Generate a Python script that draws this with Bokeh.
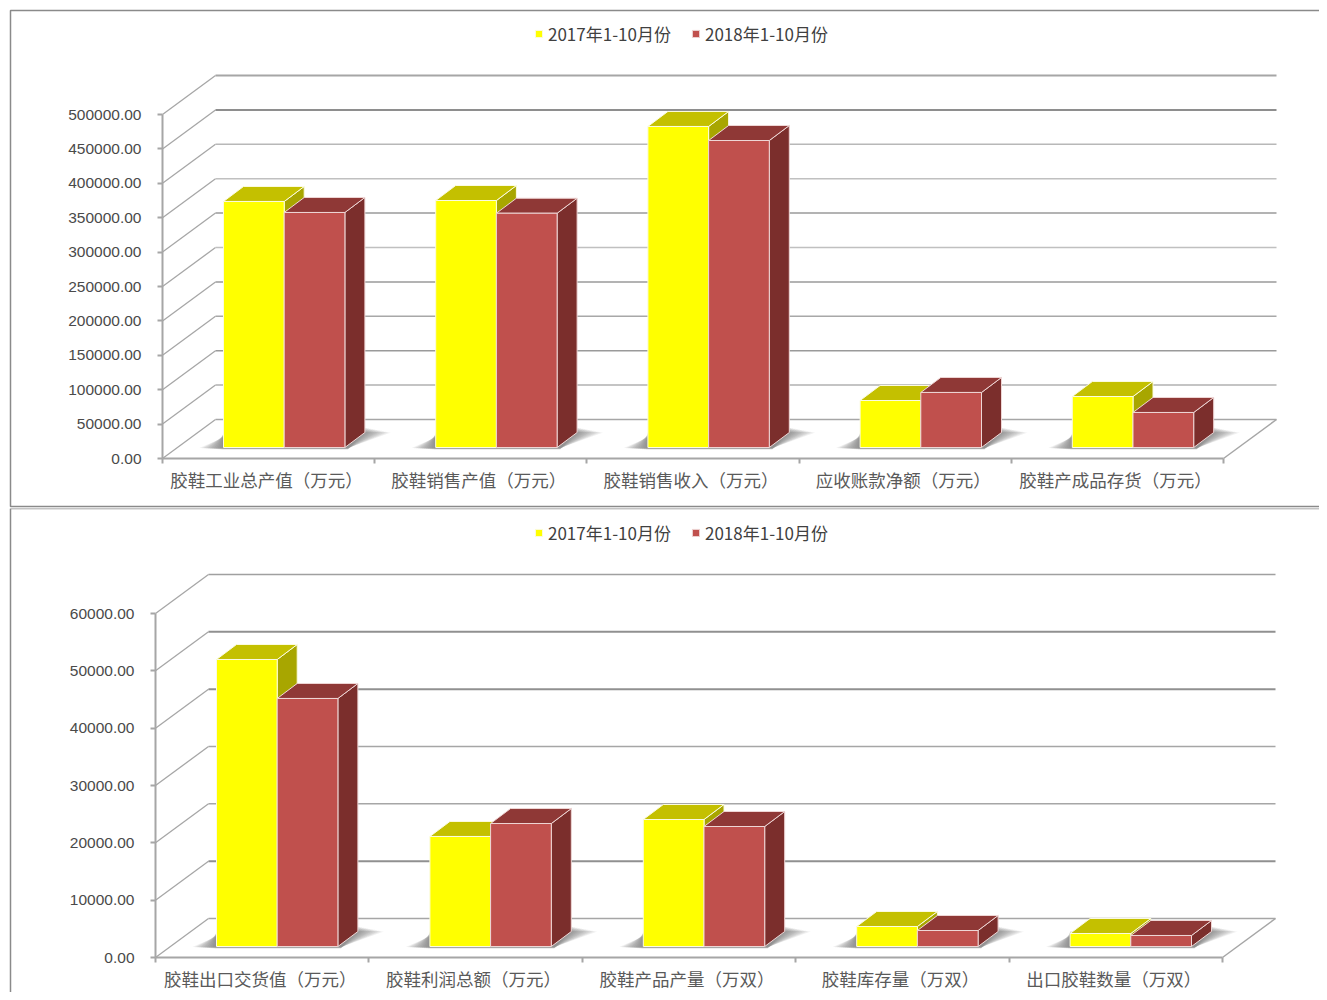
from bokeh.plotting import figure
from bokeh.layouts import column
from bokeh.models import (Range1d, LinearAxis, FixedTicker, NumeralTickFormatter,
                          Legend, LegendItem)
from bokeh.embed import file_html
from bokeh.resources import INLINE

series_names = ["2017年1-10月份", "2018年1-10月份"]

cats_a = ["胶鞋工业总产值（万元）", "胶鞋销售产值（万元）", "胶鞋销售收入（万元）",
          "应收账款净额（万元）", "胶鞋产成品存货（万元）"]
vals_a_2017 = [357600, 359000, 466600, 68300, 74100]
vals_a_2018 = [341600, 340500, 446200, 80000, 50900]
ticks_a = [0, 50000, 100000, 150000, 200000, 250000, 300000, 350000, 400000, 450000, 500000]

cats_b = ["胶鞋出口交货值（万元）", "胶鞋利润总额（万元）", "胶鞋产品产量（万双）",
          "胶鞋库存量（万双）", "出口胶鞋数量（万双）"]
vals_b_2017 = [50060, 19190, 22150, 3490, 2270]
vals_b_2018 = [43260, 21450, 20930, 2790, 1920]
ticks_b = [0, 10000, 20000, 30000, 40000, 50000, 60000]

YEL, YEL_TOP, YEL_SIDE = "#ffff00", "#c4c000", "#a8a600"
RED, RED_TOP, RED_SIDE = "#c0504d", "#8f3836", "#7b2e2c"
EDGE_Y, EDGE_R = "#fbfbe0", "#eed6d5"
GRID = "#a6a6a6"
TXT = "#4a4a4a"
FONT = "Noto Sans CJK SC"

style_a = [("#a6a6a6", 1.5), ("#b0b0b0", 1.5), ("#9a9a9a", 1.5), ("#a8a8a8", 1.5), ("#9a9a9a", 1.5),
           ("#c0c0c0", 1.5), ("#9a9a9a", 1.5), ("#c0c0c0", 1.5), ("#b8b8b8", 1.5), ("#8e8e8e", 2), ("#a6a6a6", 2)]
style_b = [("#a6a6a6", 1.5), ("#909090", 2), ("#a6a6a6", 1.5), ("#a6a6a6", 1.5), ("#909090", 2), ("#909090", 2), ("#a0a0a0", 1.5)]


def panel(cats, v1, v2, ticks, style, x0px, x5px, y0px, ytoppx, back_dy, base_dy,
          page_top, page_bottom, x_first, border_top, border_bottom, legend_y):
    """One 3D-look column chart; frame fills the whole figure, axes sit at fixed data locations."""
    W = 1319
    H = page_bottom - page_top
    u = (x5px - x0px) / 5.0                 # px per category
    k = ticks[-1] / float(y0px - ytoppx)    # value per px
    p = figure(width=W, height=H, output_backend="svg", toolbar_location=None,
               x_axis_type=None, y_axis_type=None, min_border=0,
               x_range=Range1d((0 - x0px) / u, (W - x0px) / u),
               y_range=Range1d((y0px - page_bottom) * k, (y0px - page_top) * k))
    p.outline_line_color = None
    p.grid.visible = False
    p.background_fill_color = "white"
    p.border_fill_color = "white"

    dxw, dyw = 53 / u, back_dy * k        # wall depth
    dxb, dyb = 20 / u, 15 * k             # bar depth
    base = base_dy * k                    # bar base above zero line
    right = 5.0

    # panel border
    xl_b, xr_b = (10 - x0px) / u, (W - x0px) / u
    ytop = (y0px - border_top) * k
    if border_bottom is None:
        p.line([xr_b, xl_b, xl_b], [ytop, ytop, (y0px - page_bottom) * k], line_color="#8a8a8a", line_width=1.5)
    else:
        ybot = (y0px - border_bottom) * k
        p.line([xr_b, xl_b, xl_b, xr_b], [ytop, ytop, ybot, ybot], line_color="#8a8a8a", line_width=1.5)

    # back wall gridlines and the slanted side lines
    for t, (c, w) in zip(ticks, style):
        p.line([0, dxw], [t, t + dyw], line_color=GRID, line_width=1.3)
        p.line([dxw, right + dxw], [t + dyw, t + dyw], line_color=c, line_width=w)
    # floor right edge
    p.line([right, right + dxw], [0, dyw], line_color=GRID, line_width=1.5)

    n = len(cats)
    ws = 60.7 / u
    first = (x_first - x0px) / u

    # soft shadows, built from stacked translucent layers
    for j in range(n):
        g = first + j
        xl, xr = g, g + 2 * ws
        for s in range(1, 13):
            e = 1 - (s - 1) / 12.0
            p.patch([xl - 24 * e / u, xr + 3 / u, xr + (20 + 26 * e) / u, xr + 20 / u, xl],
                    [base + (1.5 * e - 2) * k, base + (1.5 * e - 2) * k,
                     base + (20 - 5 * e) * k, base + (20 - 5 * e) * k, base + (16 - 6 * e) * k],
                    fill_color="#707070", fill_alpha=0.1, line_color=None)

    # bars
    front = {}
    for j in range(n):
        g = first + j
        for i, (vals, f, t_, s_, ed) in enumerate(((v1, YEL, YEL_TOP, YEL_SIDE, EDGE_Y),
                                                   (v2, RED, RED_TOP, RED_SIDE, EDGE_R))):
            l, r = g + i * ws, g + (i + 1) * ws
            top = base + vals[j]
            p.patch([r, r + dxb, r + dxb, r], [base, base + dyb, top + dyb, top],
                    fill_color=s_, line_color=ed, line_width=1)
            p.patch([l, l + dxb, r + dxb, r], [top, top + dyb, top + dyb, top],
                    fill_color=t_, line_color=ed, line_width=1)
            q = p.quad(left=[l], right=[r], bottom=[base], top=[top],
                       fill_color=f, line_color=ed, line_width=1)
            front[i] = q

    # axes
    ya = LinearAxis(fixed_location=0, bounds=(0, ticks[-1]),
                    ticker=FixedTicker(ticks=ticks),
                    formatter=NumeralTickFormatter(format="0.00"),
                    axis_line_color=GRID, axis_line_width=2,
                    major_tick_line_color=GRID, major_tick_line_width=2,
                    major_tick_in=0, major_tick_out=5, minor_tick_out=0, minor_tick_in=0,
                    major_label_standoff=16,
                    major_label_text_font="Liberation Sans",
                    major_label_text_font_size="15.5px",
                    major_label_text_color=TXT)
    p.add_layout(ya, "left")

    centers = [j + 0.5 - 2 / u for j in range(n)]
    xa = LinearAxis(fixed_location=0, bounds=(0, 5),
                    ticker=FixedTicker(ticks=centers, minor_ticks=list(range(n + 1))),
                    major_label_overrides={c: s for c, s in zip(centers, cats)},
                    axis_line_color=GRID, axis_line_width=2,
                    major_tick_line_color=None, major_tick_in=0, major_tick_out=0,
                    minor_tick_line_color=GRID, minor_tick_line_width=2,
                    minor_tick_in=0, minor_tick_out=5,
                    major_label_standoff=3,
                    major_label_text_font=FONT,
                    major_label_text_font_size="17.5px",
                    major_label_text_color="#5a5a5a")
    p.add_layout(xa, "below")

    leg = Legend(items=[LegendItem(label=series_names[0], renderers=[front[0]]),
                        LegendItem(label=series_names[1], renderers=[front[1]])],
                 orientation="horizontal", location=(534, legend_y),
                 border_line_color=None, background_fill_alpha=0,
                 padding=0, margin=0, spacing=20,
                 glyph_width=9, glyph_height=9, label_standoff=5,
                 label_text_font=FONT, label_text_font_size="17px",
                 label_text_color="#404040", label_height=18)
    p.add_layout(leg, "center")
    return p


pa = panel(cats_a, vals_a_2017, vals_a_2018, ticks_a, style_a, 162, 1223, 458, 114, 39, 11,
           0, 508, 223, 10, 506, 462)
pb = panel(cats_b, vals_b_2017, vals_b_2018, ticks_b, style_b, 155, 1222, 957, 613, 39, 11,
           508, 992, 216, 508, None, 447)

layout = column(pa, pb, spacing=0, margin=0)
open("out.html", "w").write(file_html(layout, INLINE))
